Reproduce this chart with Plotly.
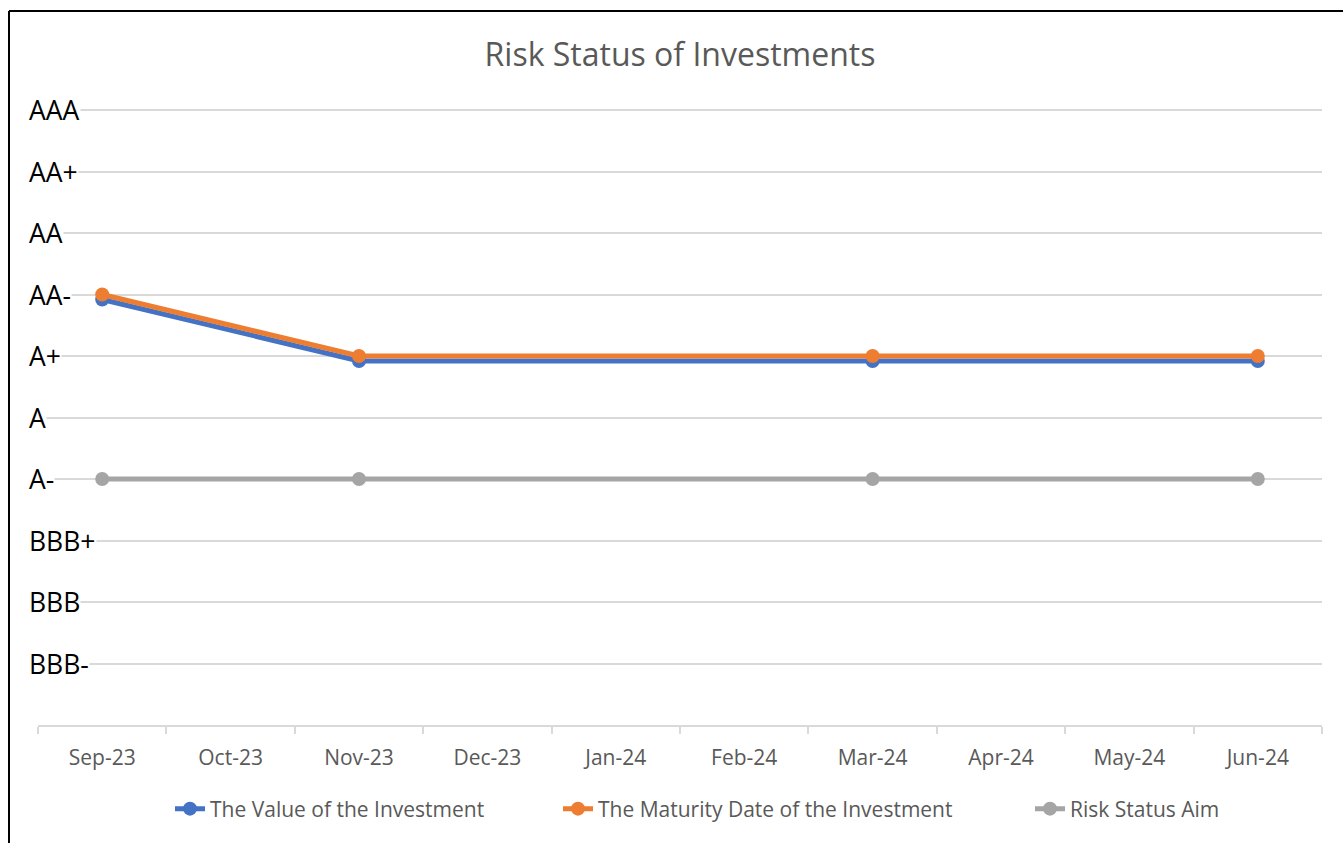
import plotly.graph_objects as go

months = ["Sep-23", "Oct-23", "Nov-23", "Dec-23", "Jan-24", "Feb-24",
          "Mar-24", "Apr-24", "May-24", "Jun-24"]
ratings = ["BBB-", "BBB", "BBB+", "A-", "A", "A+", "AA-", "AA", "AA+", "AAA"]
rating_vals = [1, 2, 3, 4, 5, 6, 7, 8, 9, 10]

series_names = ["The Value of the Investment",
                "The Maturity Date of the Investment",
                "Risk Status Aim"]
value_series = [6.92, None, 5.92, None, None, None, 5.92, None, None, 5.92]
maturity_series = [7, None, 6, None, None, None, 6, None, None, 6]
aim_series = [4, None, 4, None, None, None, 4, None, None, 4]
colors = ["#4472C4", "#ED7D31", "#A5A5A5"]

W, H = 1343, 843
L, R, T, B = 38, 1322, 107, 725
YMAX = 10.05

legend_text_px = [213, 601, 1073]
legend_ids = ["legend", "legend2", "legend3"]

fig = go.Figure()
for name, ys, col, lid in zip(series_names, [value_series, maturity_series, aim_series],
                              colors, legend_ids):
    fig.add_trace(go.Scatter(
        x=months, y=ys, name=name, mode="lines+markers", connectgaps=True,
        line=dict(color=col, width=5),
        marker=dict(color=col, size=14),
        legend=lid,
    ))

for v, lab in zip(rating_vals, ratings):
    fig.add_annotation(x=(28 - L) / (R - L), xref="paper", y=v, yref="y",
                       text=lab, showarrow=False, xanchor="left", yanchor="middle",
                       font=dict(family="Open Sans", size=26.5, color="#000000"),
                       bgcolor="#ffffff", borderpad=0)

# outer border (left and top)
bx = (9 - L) / (R - L)
by = 1 + (T - 11) / (B - T)
fig.add_shape(type="line", xref="paper", yref="paper", x0=bx, x1=1.2, y0=by, y1=by,
              line=dict(color="#000000", width=2))
fig.add_shape(type="line", xref="paper", yref="paper", x0=bx, x1=bx, y0=by, y1=-0.3,
              line=dict(color="#000000", width=2))

legend_common = dict(orientation="h", yanchor="middle", y=(B - 809) / (B - T),
                     xanchor="left", bgcolor="rgba(0,0,0,0)",
                     font=dict(family="Open Sans", size=21, color="#595959"))
legends = {}
for lid, tx in zip(legend_ids, legend_text_px):
    legends[lid] = dict(legend_common, x=(tx - 43 - L) / (R - L))

fig.update_layout(
    width=W, height=H,
    margin=dict(l=L, r=W - R, t=T, b=H - B),
    paper_bgcolor="#ffffff", plot_bgcolor="#ffffff",
    title=dict(text="Risk Status of Investments", x=680 / W,
               xanchor="center", y=1 - 55 / H, yanchor="middle", yref="container",
               font=dict(family="Open Sans", size=32, color="#595959")),
    showlegend=True,
    font=dict(family="Open Sans"),
    **legends,
)
fig.update_xaxes(type="category", range=[-0.5, 9.5], tickson="boundaries",
                 ticks="outside", ticklen=7, tickcolor="#d9d9d9", tickwidth=2,
                 showline=True, linecolor="#d9d9d9", linewidth=2, showgrid=False,
                 tickfont=dict(family="Open Sans", size=21, color="#595959"),
                 ticklabelstandoff=13)
fig.update_yaxes(range=[0, YMAX], tickvals=rating_vals, showticklabels=False,
                 showgrid=True, gridcolor="#d9d9d9", gridwidth=2, zeroline=False,
                 showline=False, ticks="")

fig.write_html("out.html", config={"displayModeBar": False},
               post_script="document.body.style.margin='0';")
